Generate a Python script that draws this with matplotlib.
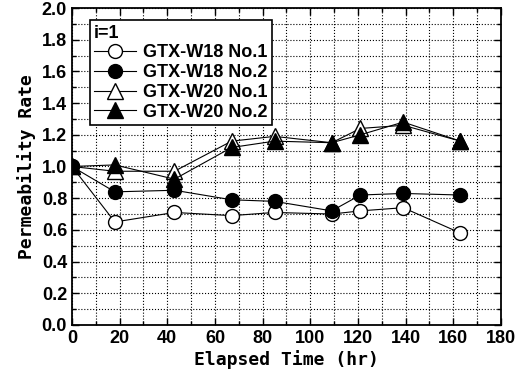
import matplotlib
matplotlib.use('Agg')
from matplotlib import pyplot as plt

hours = [0, 18, 43, 67, 85, 109, 121, 139, 163]

w18_no1 = [1.00, 0.65, 0.71, 0.69, 0.71, 0.70, 0.72, 0.74, 0.58]
w18_no2 = [1.00, 0.84, 0.85, 0.79, 0.78, 0.72, 0.82, 0.83, 0.82]
w20_no1 = [1.00, 0.97, 0.97, 1.16, 1.19, 1.15, 1.24, 1.26, 1.16]
w20_no2 = [1.00, 1.01, 0.92, 1.12, 1.16, 1.15, 1.20, 1.28, 1.16]

plt.rcParams['font.family'] = ['Liberation Sans', 'DejaVu Sans']
plt.rcParams['font.weight'] = 'bold'

fig = plt.figure(figsize=(5.29, 3.81), dpi=100)
ax = fig.add_axes([0.136, 0.147, 0.811, 0.832])

ms = 10
ax.plot(hours, w18_no1, color='k', lw=0.8, marker='o', mfc='white', mec='k', ms=ms, label='GTX-W18 No.1')
ax.plot(hours, w18_no2, color='k', lw=0.8, marker='o', mfc='k', mec='k', ms=ms, label='GTX-W18 No.2')
ax.plot(hours, w20_no1, color='k', lw=0.8, marker='^', mfc='white', mec='k', ms=ms + 1, label='GTX-W20 No.1')
ax.plot(hours, w20_no2, color='k', lw=0.8, marker='^', mfc='k', mec='k', ms=ms + 1, label='GTX-W20 No.2')

ax.set_xlim(0, 180)
ax.set_ylim(0, 2.0)
ax.set_xticks(range(0, 181, 20))
ax.set_xticks(range(0, 181, 10), minor=True)
ax.set_yticks([i / 10 for i in range(0, 21, 2)])
ax.set_yticks([i / 10 for i in range(0, 21)], minor=True)
ax.yaxis.set_major_formatter(matplotlib.ticker.FormatStrFormatter('%.1f'))
ax.grid(which='both', color='k', ls=':', lw=0.8)
ax.set_axisbelow(True)
ax.tick_params(which='both', direction='in', top=True, right=True, labelsize=13, width=1)
ax.tick_params(which='major', length=5)
ax.tick_params(which='minor', length=3)
for sp in ax.spines.values():
    sp.set_linewidth(1.3)

lab_font = dict(family=['DejaVu Sans Mono'], weight='bold', size=13)
ax.set_xlabel('Elapsed Time (hr)', fontdict=lab_font, labelpad=2)
ax.set_ylabel('Permeability Rate', fontdict=lab_font, labelpad=4)

leg = ax.legend(title='i=1', loc='upper left', bbox_to_anchor=(0.02, 0.99), fontsize=13,
                title_fontproperties={'weight': 'bold', 'size': 13}, frameon=True, fancybox=False,
                edgecolor='k', framealpha=1, handlelength=2.3, borderpad=0.25, labelspacing=0.15,
                handletextpad=0.4)
leg._legend_box.align = 'left'
leg.get_frame().set_linewidth(1.2)

plt.savefig('out.png', dpi=100)
